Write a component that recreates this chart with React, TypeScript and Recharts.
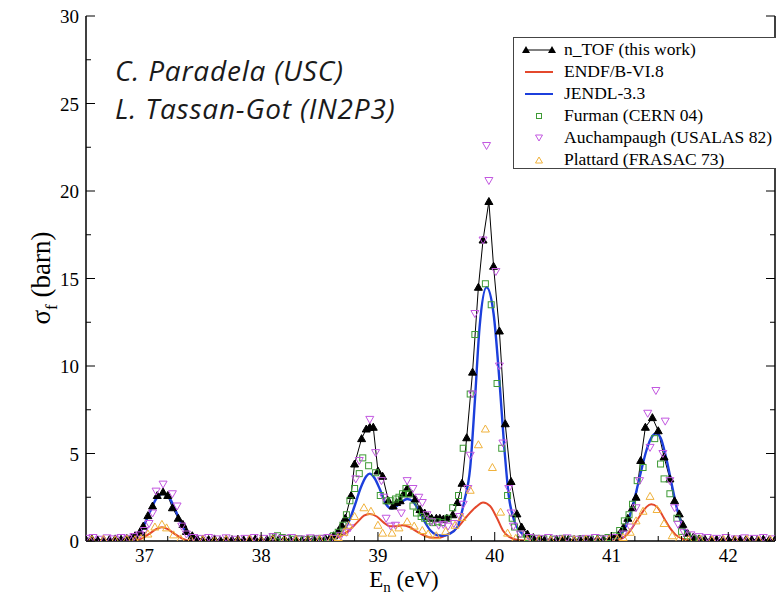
import React from "react";
import { ComposedChart, Line, XAxis, YAxis } from "recharts";

// axis ticks (minor every 0.2 eV / 2.5 barn, labels only on majors)
const xTicks = [
  36.6, 36.8, 37, 37.2, 37.4, 37.6, 37.8, 38, 38.2, 38.4, 38.6, 38.8, 39, 39.2,
  39.4, 39.6, 39.8, 40, 40.2, 40.4, 40.6, 40.8, 41, 41.2, 41.4, 41.6, 41.8, 42,
  42.2, 42.4,
];
const yTicks = [0, 2.5, 5, 7.5, 10, 12.5, 15, 17.5, 20, 22.5, 25, 27.5, 30];

// n_TOF (this work)
const ntofE = [
  36.5, 36.55, 36.6, 36.65, 36.7, 36.75, 36.8, 36.85, 36.89, 36.92, 36.96, 36.99,
  37.03, 37.07, 37.11, 37.16, 37.2, 37.24, 37.29, 37.33, 37.36, 37.41, 37.45, 37.5,
  37.55, 37.6, 37.65, 37.7, 37.75, 37.8, 37.85, 37.9, 37.95, 38.0, 38.05, 38.1,
  38.15, 38.2, 38.25, 38.3, 38.35, 38.4, 38.45, 38.5, 38.55, 38.59, 38.62, 38.66,
  38.69, 38.72, 38.77, 38.8, 38.86, 38.9, 38.93, 38.96, 39.0, 39.04, 39.09, 39.13,
  39.16, 39.19, 39.22, 39.25, 39.28, 39.32, 39.36, 39.4, 39.43, 39.46, 39.5, 39.53,
  39.56, 39.59, 39.64, 39.68, 39.72, 39.76, 39.81, 39.86, 39.9, 39.95, 39.99, 40.04,
  40.09, 40.14, 40.19, 40.23, 40.28, 40.33, 40.38, 40.43, 40.48, 40.53, 40.58, 40.63,
  40.68, 40.73, 40.78, 40.83, 40.88, 40.93, 40.98, 41.02, 41.06, 41.1, 41.14, 41.18,
  41.21, 41.25, 41.29, 41.35, 41.4, 41.45, 41.5, 41.54, 41.58, 41.61, 41.65, 41.7,
  41.75, 41.8, 41.85, 41.9, 41.95, 42.0, 42.05, 42.1, 42.15, 42.2, 42.25, 42.3,
  42.35, 42.4,
];
const ntofSigma = [
  0.08, 0.12, 0.06, 0.1, 0.08, 0.12, 0.1, 0.14, 0.2, 0.3, 0.5, 0.85,
  1.45, 2.0, 2.6, 2.8, 2.6, 1.9, 1.3, 0.95, 0.55, 0.3, 0.15, 0.1,
  0.08, 0.12, 0.06, 0.1, 0.08, 0.11, 0.07, 0.1, 0.12, 0.08, 0.1, 0.14,
  0.1, 0.12, 0.08, 0.1, 0.07, 0.1, 0.12, 0.1, 0.14, 0.2, 0.3, 0.55,
  0.9, 1.3, 2.6, 4.4, 5.85, 6.4, 6.5, 6.5, 4.0, 3.7, 2.3, 2.0,
  2.2, 2.3, 2.7, 3.0, 2.7, 2.4, 1.8, 1.6, 1.4, 1.3, 1.3, 1.3,
  1.25, 1.3, 1.5, 2.2, 3.3, 5.9, 9.65, 14.5, 17.2, 19.4, 15.7, 12.0,
  6.7, 3.4, 1.55, 0.8, 0.4, 0.2, 0.12, 0.1, 0.08, 0.1, 0.07, 0.1,
  0.08, 0.1, 0.07, 0.1, 0.12, 0.1, 0.12, 0.18, 0.35, 0.75, 1.3, 1.9,
  2.5, 4.6, 6.5, 7.05, 6.3, 4.8, 3.55, 2.3, 1.55, 0.95, 0.45, 0.22,
  0.12, 0.1, 0.08, 0.1, 0.07, 0.1, 0.08, 0.1, 0.07, 0.09, 0.08, 0.1,
  0.07, 0.08,
];

// ENDF/B-VI.8
const endfE = [
  36.5, 36.9, 36.98, 37.05, 37.1, 37.15, 37.2, 37.25, 37.32, 37.4, 38.5, 38.62,
  38.7, 38.76, 38.82, 38.88, 38.93, 38.99, 39.05, 39.1, 39.16, 39.21, 39.27, 39.33,
  39.4, 39.47, 39.53, 39.6, 39.68, 39.76, 39.84, 39.9, 39.96, 40.02, 40.07, 40.12,
  40.2, 40.3, 41.0, 41.08, 41.15, 41.21, 41.26, 41.3, 41.34, 41.39, 41.45, 41.5,
  41.55, 41.62, 41.7, 42.4,
];
const endfSigma = [
  0, 0.02, 0.15, 0.45, 0.68, 0.78, 0.68, 0.45, 0.15, 0.02, 0.02, 0.12,
  0.35, 0.65, 1.05, 1.45, 1.55, 1.4, 1.05, 0.85, 0.85, 0.9, 0.8, 0.55,
  0.3, 0.18, 0.2, 0.38, 0.75, 1.4, 1.95, 2.2, 2.0, 1.3, 0.6, 0.25,
  0.06, 0.02, 0.02, 0.12, 0.5, 1.1, 1.6, 1.95, 2.1, 1.95, 1.3, 0.75,
  0.35, 0.1, 0.02, 0,
];

// JENDL-3.3
const jendlE = [
  36.5, 36.8, 36.9, 36.95, 37.0, 37.05, 37.1, 37.16, 37.22, 37.27, 37.32, 37.37,
  37.42, 37.5, 38.0, 38.5, 38.6, 38.65, 38.7, 38.75, 38.8, 38.85, 38.9, 38.93,
  38.97, 39.02, 39.07, 39.12, 39.18, 39.25, 39.3, 39.35, 39.4, 39.45, 39.5, 39.55,
  39.61, 39.68, 39.74, 39.79, 39.83, 39.87, 39.93, 39.99, 40.04, 40.08, 40.12, 40.17,
  40.23, 40.3, 40.4, 41.0, 41.05, 41.1, 41.15, 41.2, 41.25, 41.3, 41.35, 41.38,
  41.42, 41.47, 41.52, 41.57, 41.62, 41.67, 41.72, 41.8, 42.4,
];
const jendlSigma = [
  0, 0.02, 0.15, 0.4, 0.95, 1.7, 2.4, 2.7, 2.4, 1.7, 0.95, 0.4,
  0.15, 0.03, 0.02, 0.05, 0.15, 0.3, 0.6, 1.1, 2.0, 3.0, 3.7, 3.85,
  3.6, 2.9, 2.1, 1.85, 2.1, 2.4, 2.25, 1.75, 1.1, 0.6, 0.35, 0.3,
  0.4, 0.8, 2.3, 4.2, 8.0, 12.2, 14.5, 13.0, 9.2, 5.5, 2.6, 1.1,
  0.45, 0.15, 0.05, 0.05, 0.2, 0.55, 1.3, 2.5, 3.9, 5.2, 6.0, 6.15,
  5.9, 4.7, 3.1, 1.6, 0.7, 0.3, 0.1, 0.03, 0,
];

// Furman (CERN 04)
const furmanE = [
  38.1, 38.14, 38.18, 38.22, 38.27, 38.32, 38.37, 38.42, 38.47, 38.52, 38.57, 38.62,
  38.66, 38.7, 38.73, 38.76, 38.8, 38.84, 38.87, 38.92, 38.98, 39.02, 39.07, 39.11,
  39.15, 39.18, 39.21, 39.24, 39.27, 39.3, 39.33, 39.37, 39.4, 39.44, 39.47, 39.51,
  39.55, 39.6, 39.64, 39.69, 39.73, 39.79, 39.83, 39.92, 39.97, 40.02, 40.06, 40.11,
  40.15, 40.17, 40.22, 40.28, 40.35, 40.42, 40.5, 40.58, 40.66, 40.74, 40.82, 40.9,
  40.97, 41.02, 41.07, 41.11, 41.15, 41.18, 41.22, 41.27, 41.37, 41.42, 41.45, 41.5,
  41.56, 41.6, 41.65, 41.7, 41.75,
];
const furmanSigma = [
  0.25, 0.3, 0.2, 0.15, 0.1, 0.12, 0.08, 0.1, 0.12, 0.15, 0.2, 0.3,
  0.5, 0.9, 1.5, 2.3, 3.0, 3.85, 4.75, 4.3, 3.9, 2.6, 2.3, 2.3,
  2.4, 2.5, 2.7, 3.0, 2.7, 2.0, 1.6, 1.4, 1.3, 1.15, 1.05, 1.1,
  1.05, 1.3, 1.9, 2.6, 5.3, 8.4, 11.8, 14.7, 13.5, 9.0, 5.3, 2.6,
  1.3, 0.8, 0.4, 0.2, 0.15, 0.12, 0.1, 0.15, 0.1, 0.12, 0.1, 0.15,
  0.2, 0.3, 0.6, 1.15, 1.5, 2.1, 3.45, 4.2, 5.85, 4.4, 3.55, 2.7,
  1.3, 0.55, 0.3, 0.15, 0.1,
];

// Auchampaugh (USALAS 82)
const auchE = [
  36.5, 36.56, 36.62, 36.68, 36.74, 36.8, 36.86, 36.91, 36.96, 37.0, 37.04, 37.07,
  37.1, 37.16, 37.24, 37.28, 37.32, 37.36, 37.42, 37.48, 37.55, 37.62, 37.7, 37.78,
  37.86, 37.94, 38.02, 38.1, 38.18, 38.26, 38.34, 38.42, 38.5, 38.57, 38.62, 38.68,
  38.73, 38.76, 38.81, 38.84, 38.93, 38.98, 39.03, 39.05, 39.07, 39.11, 39.15, 39.2,
  39.25, 39.3, 39.35, 39.38, 39.42, 39.46, 39.52, 39.56, 39.6, 39.65, 39.7, 39.73,
  39.77, 39.79, 39.81, 39.83, 39.9, 39.93, 39.95, 40.01, 40.04, 40.07, 40.12, 40.14,
  40.16, 40.22, 40.3, 40.38, 40.46, 40.54, 40.62, 40.7, 40.78, 40.86, 40.94, 41.02,
  41.1, 41.16, 41.21, 41.24, 41.31, 41.33, 41.38, 41.44, 41.46, 41.5, 41.54, 41.57,
  41.62, 41.68, 41.75, 41.82, 41.9, 41.98, 42.06, 42.14, 42.22, 42.3, 42.38,
];
const auchSigma = [
  0.15, 0.2, 0.1, 0.18, 0.12, 0.2, 0.15, 0.25, 0.35, 0.6, 1.0, 1.6,
  2.85, 3.25, 2.7, 2.0, 0.85, 0.4, 0.2, 0.15, 0.2, 0.12, 0.18, 0.1,
  0.15, 0.2, 0.15, 0.25, 0.15, 0.2, 0.12, 0.18, 0.15, 0.2, 0.15, 0.3,
  0.5, 0.75, 3.55, 4.6, 6.95, 5.05, 3.45, 2.5, 1.3, 0.85, 0.9, 1.6,
  3.45, 3.0, 2.5, 2.2, 1.5, 1.1, 0.9, 0.95, 0.85, 1.0, 1.4, 2.1,
  3.0, 4.9, 8.4, 13.0, 17.2, 22.6, 20.6, 15.4, 10.0, 5.6, 3.0, 1.6,
  0.85, 0.4, 0.2, 0.15, 0.2, 0.12, 0.18, 0.1, 0.15, 0.2, 0.12, 0.2,
  0.4, 0.8, 1.9, 3.45, 7.3, 5.35, 8.6, 5.0, 6.85, 3.45, 1.9, 0.95,
  0.5, 0.35, 0.25, 0.2, 0.15, 0.2, 0.12, 0.18, 0.15, 0.2, 0.12,
];

// Plattard (FRASAC 73)
const plattE = [
  36.55, 36.65, 36.75, 36.85, 36.92, 36.97, 37.03, 37.09, 37.15, 37.19, 37.25, 37.31,
  37.4, 37.5, 37.6, 37.7, 37.8, 37.9, 38.0, 38.1, 38.2, 38.3, 38.4, 38.5,
  38.6, 38.66, 38.71, 38.75, 38.8, 38.88, 38.94, 39.0, 39.04, 39.12, 39.18, 39.25,
  39.31, 39.38, 39.43, 39.5, 39.58, 39.66, 39.72, 39.79, 39.86, 39.92, 39.98, 40.05,
  40.11, 40.18, 40.28, 40.38, 40.48, 40.58, 40.68, 40.78, 40.88, 40.98, 41.05, 41.1,
  41.16, 41.21, 41.27, 41.33, 41.39, 41.45, 41.52, 41.58, 41.66, 41.76, 41.86, 41.96,
  42.06, 42.16, 42.26, 42.36,
];
const plattSigma = [
  0.08, 0.1, 0.06, 0.1, 0.08, 0.15, 0.4, 0.8, 0.95, 0.75, 0.35, 0.12,
  0.06, 0.08, 0.05, 0.08, 0.06, 0.1, 0.07, 0.1, 0.06, 0.09, 0.07, 0.1,
  0.12, 0.2, 0.5, 0.9, 1.4, 1.9, 1.7, 0.9, 0.45, 0.45, 0.75, 1.1,
  0.85, 0.6, 0.4, 0.3, 0.55, 0.9, 1.35, 2.9, 5.5, 6.4, 4.2, 1.65,
  0.45, 0.15, 0.08, 0.1, 0.06, 0.09, 0.07, 0.1, 0.06, 0.1, 0.12, 0.2,
  0.5, 1.15, 1.7, 2.55, 1.8, 1.0, 0.3, 0.12, 0.08, 0.1, 0.06, 0.09,
  0.07, 0.1, 0.06, 0.08,
];

const zip = (e: number[], s: number[]) => e.map((x, i) => ({ x, y: s[i] }));

const SERIF = "'Liberation Serif', 'Times New Roman', serif";
const C_RED = "#e4482c";
const C_BLUE = "#1c3fdc";
const C_GREEN = "#3e9a35";
const C_MAG = "#c257e0";
const C_ORANGE = "#f0b23c";

const isMajor = (v: number, step: number) =>
  Math.abs(v / step - Math.round(v / step)) < 1e-6;

// inward-pointing ticks, xmgrace style
function makeTick(side: "bottom" | "top" | "left" | "right") {
  return (props: any) => {
    const { x, y, payload } = props;
    const v = payload.value as number;
    const horiz = side === "bottom" || side === "top";
    const major = horiz ? isMajor(v, 1) : isMajor(v, 5);
    const len = major ? 9 : 5;
    let line;
    if (side === "bottom") line = <line x1={x} y1={y} x2={x} y2={y - len} stroke="#000" />;
    else if (side === "top") line = <line x1={x} y1={y} x2={x} y2={y + len} stroke="#000" />;
    else if (side === "left") line = <line x1={x} y1={y} x2={x + len} y2={y} stroke="#000" />;
    else line = <line x1={x} y1={y} x2={x - len} y2={y} stroke="#000" />;
    let label = null;
    if (major && side === "bottom")
      label = (
        <text x={x} y={y + 21} textAnchor="middle" fontFamily={SERIF} fontSize={19} fill="#000">
          {Math.round(v)}
        </text>
      );
    if (major && side === "left")
      label = (
        <text x={x - 7} y={y + 7} textAnchor="end" fontFamily={SERIF} fontSize={19} fill="#000">
          {Math.round(v)}
        </text>
      );
    return (
      <g>
        {line}
        {label}
      </g>
    );
  };
}

const upTri = (fill: string, stroke: string) => (p: any) => {
  const { cx, cy, index } = p;
  if (cx == null || cy == null) return <g key={index} />;
  return (
    <path
      key={index}
      d={`M${cx - 4},${cy + 3} L${cx + 4},${cy + 3} L${cx},${cy - 4} Z`}
      fill={fill}
      stroke={stroke}
      strokeWidth={1}
    />
  );
};
const downTri = (stroke: string) => (p: any) => {
  const { cx, cy, index } = p;
  if (cx == null || cy == null) return <g key={index} />;
  return (
    <path
      key={index}
      d={`M${cx - 4},${cy - 3} L${cx + 4},${cy - 3} L${cx},${cy + 4} Z`}
      fill="none"
      stroke={stroke}
      strokeWidth={1}
    />
  );
};
const square = (stroke: string) => (p: any) => {
  const { cx, cy, index } = p;
  if (cx == null || cy == null) return <g key={index} />;
  return <rect key={index} x={cx - 3} y={cy - 3} width={6} height={6} fill="none" stroke={stroke} strokeWidth={1} />;
};

const XTitle = () => (
  <text x={404} y={587} textAnchor="middle" fontFamily={SERIF} fontSize={23} fill="#000">
    E
    <tspan fontSize={15} dy={5}>n</tspan>
    <tspan dy={-5}> (eV)</tspan>
  </text>
);

const YTitle = () => (
  <text
    transform="translate(50,278) rotate(-90)"
    textAnchor="middle"
    fontFamily={SERIF}
    fontSize={27}
    fill="#000"
  >
    σ
    <tspan fontSize={17} dy={7}>f</tspan>
    <tspan dy={-7}> (barn)</tspan>
  </text>
);

const legendRows = [
  { name: "n_TOF (this work)", kind: "ntof" },
  { name: "ENDF/B-VI.8", kind: "red" },
  { name: "JENDL-3.3", kind: "blue" },
  { name: "Furman (CERN 04)", kind: "sq" },
  { name: "Auchampaugh (USALAS 82)", kind: "down" },
  { name: "Plattard (FRASAC 73)", kind: "up" },
];

function LegendSymbol({ kind }: { kind: string }) {
  return (
    <svg width={36} height={14} style={{ display: "block" }}>
      {kind === "ntof" && (
        <g>
          <line x1={4} y1={8} x2={30} y2={8} stroke="#000" />
          <path d="M0,11 L8,11 L4,4 Z" fill="#000" />
          <path d="M26,11 L34,11 L30,4 Z" fill="#000" />
        </g>
      )}
      {kind === "red" && <line x1={3} y1={8} x2={31} y2={8} stroke={C_RED} strokeWidth={2} />}
      {kind === "blue" && <line x1={3} y1={8} x2={31} y2={8} stroke={C_BLUE} strokeWidth={2} />}
      {kind === "sq" && <rect x={14.5} y={5.5} width={5} height={5} fill="none" stroke={C_GREEN} />}
      {kind === "down" && <path d="M13.5,5 L20.5,5 L17,11 Z" fill="none" stroke={C_MAG} />}
      {kind === "up" && <path d="M13.5,11 L20.5,11 L17,5 Z" fill="none" stroke={C_ORANGE} />}
    </svg>
  );
}

export default function App() {
  return (
    <div
      style={{
        position: "absolute",
        left: 0,
        top: 0,
        width: 776,
        height: 595,
        overflow: "hidden",
        background: "#fff",
      }}
    >
      <ComposedChart width={778} height={595} margin={{ top: 16, right: 2, bottom: 0, left: 0 }}>
        <XAxis
          dataKey="x"
          type="number"
          domain={[36.5, 42.4]}
          allowDataOverflow
          ticks={xTicks}
          interval={0}
          tickSize={0}
          tickMargin={0}
          tick={makeTick("bottom")}
          height={54}
          axisLine={{ stroke: "#000", strokeWidth: 1.5 }}
          label={<XTitle />}
        />
        <XAxis
          xAxisId="top"
          orientation="top"
          dataKey="x"
          type="number"
          domain={[36.5, 42.4]}
          allowDataOverflow
          ticks={xTicks}
          interval={0}
          tickSize={0}
          tickMargin={0}
          tick={makeTick("top")}
          height={0}
          axisLine={{ stroke: "#000", strokeWidth: 1.5 }}
        />
        <YAxis
          type="number"
          domain={[0, 30]}
          allowDataOverflow
          ticks={yTicks}
          interval={0}
          tickSize={0}
          tickMargin={0}
          tick={makeTick("left")}
          width={86}
          axisLine={{ stroke: "#000", strokeWidth: 1.5 }}
          label={<YTitle />}
        />
        <YAxis
          yAxisId="right"
          orientation="right"
          type="number"
          domain={[0, 30]}
          allowDataOverflow
          ticks={yTicks}
          interval={0}
          tickSize={0}
          tickMargin={0}
          tick={makeTick("right")}
          width={1}
          axisLine={{ stroke: "#000", strokeWidth: 1.5 }}
        />

        <Line
          data={zip(ntofE, ntofSigma)}
          dataKey="y"
          type="linear"
          stroke="#000"
          strokeWidth={1}
          dot={upTri("#000", "#000")}
          activeDot={false}
          isAnimationActive={false}
        />
        <Line
          data={zip(endfE, endfSigma)}
          dataKey="y"
          type="monotone"
          stroke={C_RED}
          strokeWidth={2}
          dot={false}
          activeDot={false}
          isAnimationActive={false}
        />
        <Line
          data={zip(jendlE, jendlSigma)}
          dataKey="y"
          type="monotone"
          stroke={C_BLUE}
          strokeWidth={2.4}
          dot={false}
          activeDot={false}
          isAnimationActive={false}
        />
        <Line
          data={zip(furmanE, furmanSigma)}
          dataKey="y"
          stroke="none"
          dot={square(C_GREEN)}
          activeDot={false}
          isAnimationActive={false}
        />
        <Line
          data={zip(auchE, auchSigma)}
          dataKey="y"
          stroke="none"
          dot={downTri(C_MAG)}
          activeDot={false}
          isAnimationActive={false}
        />
        <Line
          data={zip(plattE, plattSigma)}
          dataKey="y"
          stroke="none"
          dot={upTri("none", C_ORANGE)}
          activeDot={false}
          isAnimationActive={false}
        />
      </ComposedChart>

      {/* authors */}
      <div
        style={{
          position: "absolute",
          left: 115,
          top: 51,
          fontFamily: "'Open Sans', Lato, sans-serif",
          fontStyle: "italic",
          fontSize: 28,
          letterSpacing: 0.8,
          lineHeight: "38px",
          color: "#1a1a1a",
        }}
      >
        <div>C. Paradela (USC)</div>
        <div>L. Tassan-Got (IN2P3)</div>
      </div>

      {/* legend box */}
      <div
        style={{
          position: "absolute",
          left: 513,
          top: 37,
          width: 300,
          height: 132,
          border: "1px solid #444",
          background: "#fff",
          boxSizing: "border-box",
          paddingTop: 0,
        }}
      >
        {legendRows.map((r) => (
          <div key={r.name} style={{ display: "flex", alignItems: "center", height: 22 }}>
            <div style={{ marginLeft: 8, width: 42 }}>
              <LegendSymbol kind={r.kind} />
            </div>
            <span style={{ fontFamily: SERIF, fontSize: 17.5, color: "#000", whiteSpace: "nowrap" }}>{r.name}</span>
          </div>
        ))}
      </div>
    </div>
  );
}
